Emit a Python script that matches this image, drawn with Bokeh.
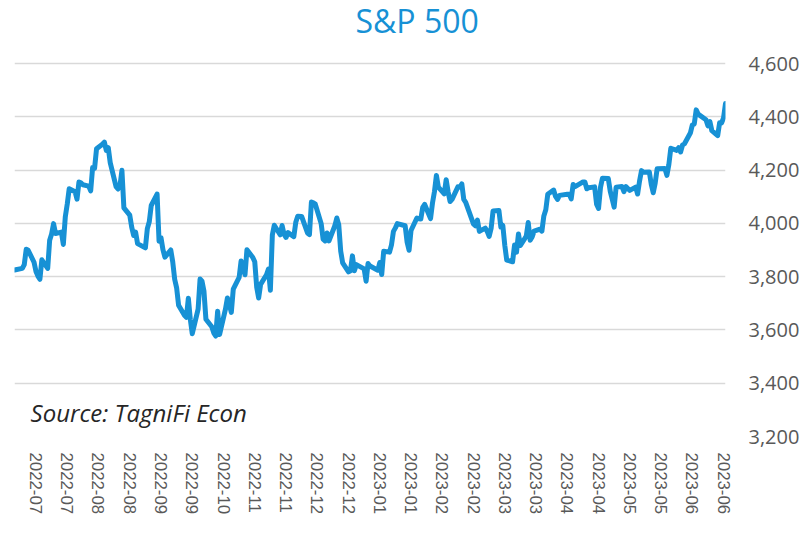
import pandas as pd
from bokeh.plotting import figure
from bokeh.models import (ColumnDataSource, Range1d, FixedTicker, NumeralTickFormatter,
                          DatetimeTickFormatter, Label)
from bokeh.embed import file_html
from bokeh.resources import INLINE

# ---------------- data ----------------
title_text = "S&P 500"
source_text = "Source: TagniFi Econ"
start_date = "2022-07-01"
end_date = "2023-06-30"
market_holidays = ["2022-07-04", "2022-09-05", "2022-11-24", "2022-12-26", "2023-01-02",
                   "2023-01-16", "2023-02-20", "2023-04-07", "2023-05-29", "2023-06-19"]

close_2022_07 = [3825, 3831, 3845, 3903, 3899, 3854, 3819, 3802, 3790, 3863,
                 3831, 3937, 3960, 3999, 3962, 3967, 3921, 4024, 4072, 4130]
close_2022_08 = [4119, 4091, 4155, 4152, 4145, 4140, 4122, 4210, 4207, 4280,
                 4297, 4305, 4274, 4284, 4228, 4138, 4129, 4141, 4199, 4058,
                 4031, 3986, 3955]
close_2022_09 = [3967, 3924, 3908, 3980, 4006, 4067, 4110, 3933, 3946, 3901,
                 3873, 3900, 3856, 3790, 3758, 3693, 3655, 3647, 3719, 3640, 3586]
close_2022_10 = [3678, 3791, 3783, 3745, 3640, 3612, 3589, 3577, 3670, 3583,
                 3678, 3720, 3695, 3666, 3753, 3797, 3859, 3831, 3807, 3901, 3872]
close_2022_11 = [3856, 3760, 3720, 3771, 3807, 3828, 3749, 3956, 3993, 3957,
                 3992, 3959, 3947, 3965, 3950, 4004, 4027, 4026, 3964, 3958, 4080]
close_2022_12 = [4077, 4072, 3999, 3941, 3934, 3964, 3934, 3991, 4020, 3995,
                 3896, 3852, 3818, 3822, 3878, 3822, 3845, 3829, 3783, 3849, 3840]
close_2023_01 = [3824, 3853, 3808, 3895, 3892, 3919, 3970, 3983, 3999, 3991,
                 3929, 3899, 3973, 4020, 4017, 4016, 4060, 4071, 4018, 4077]
close_2023_02 = [4119, 4180, 4136, 4111, 4164, 4118, 4082, 4090, 4137, 4136,
                 4148, 4090, 4079, 3997, 3991, 4012, 3970, 3982, 3970]
close_2023_03 = [3951, 3981, 4046, 4048, 3986, 3992, 3918, 3862, 3856, 3919,
                 3892, 3960, 3917, 3952, 4003, 3937, 3949, 3971, 3978, 3971,
                 4028, 4051, 4109]
close_2023_04 = [4125, 4101, 4090, 4105, 4109, 4109, 4092, 4146, 4138, 4151,
                 4155, 4155, 4130, 4134, 4137, 4072, 4056, 4135, 4169]
close_2023_05 = [4168, 4120, 4091, 4061, 4136, 4138, 4119, 4138, 4131, 4124,
                 4136, 4110, 4159, 4198, 4192, 4193, 4146, 4115, 4151, 4205,
                 4206, 4180]
close_2023_06 = [4221, 4282, 4274, 4284, 4268, 4294, 4299, 4339, 4369, 4373,
                 4426, 4410, 4389, 4366, 4382, 4348, 4329, 4378, 4377, 4396, 4450]

tick_dates = ["2022-07-12", "2022-07-28", "2022-08-13", "2022-08-29", "2022-09-14",
              "2022-09-30", "2022-10-16", "2022-11-01", "2022-11-17", "2022-12-03",
              "2022-12-19", "2023-01-04", "2023-01-20", "2023-02-05", "2023-02-21",
              "2023-03-09", "2023-03-25", "2023-04-10", "2023-04-26", "2023-05-12",
              "2023-05-28", "2023-06-13", "2023-06-29"]
y_ticks = [3200, 3400, 3600, 3800, 4000, 4200, 4400, 4600]

closes = (close_2022_07 + close_2022_08 + close_2022_09 + close_2022_10 + close_2022_11 +
          close_2022_12 + close_2023_01 + close_2023_02 + close_2023_03 + close_2023_04 +
          close_2023_05 + close_2023_06)
dates = pd.bdate_range(start_date, end_date, freq="C", holidays=market_holidays)
assert len(dates) == len(closes)

src = ColumnDataSource(data=dict(date=dates, close=closes))

def ms(d):
    return pd.Timestamp(d).value / 1e6

# ---------------- layout / styling ----------------
BLUE = "#1791D5"
GREY = "#595959"
HEADROOM = 236.5   # value-space room above the top gridline, used for the title

p = figure(width=804, height=535, x_axis_type="datetime", y_axis_location="right",
           output_backend="svg", toolbar_location=None,
           x_range=Range1d(ms(start_date), ms(end_date)),
           y_range=Range1d(y_ticks[0], y_ticks[-1] + HEADROOM),
           min_border_left=14, min_border_right=79, min_border_top=0, min_border_bottom=99)

p.outline_line_color = None
p.background_fill_color = "white"
p.border_fill_color = "white"

p.line("date", "close", source=src, line_width=5, color=BLUE,
       line_join="round", line_cap="round")

# x axis
xa = p.xaxis[0]
xa.ticker = FixedTicker(ticks=[ms(d) for d in tick_dates])
xa.formatter = DatetimeTickFormatter(milliseconds="%Y-%m", seconds="%Y-%m", minsec="%Y-%m",
                                     minutes="%Y-%m", hourmin="%Y-%m", hours="%Y-%m",
                                     days="%Y-%m", months="%Y-%m", years="%Y-%m")
xa.major_label_orientation = "vertical"
xa.axis_line_color = None
xa.major_tick_line_color = None
xa.minor_tick_line_color = None
xa.major_tick_out = 0
xa.major_label_standoff = 16
xa.axis_label_standoff = 0
xa.major_label_text_font = "Liberation Sans"
xa.major_label_text_font_size = "16.8px"
xa.major_label_text_color = GREY

# y axis
ya = p.yaxis[0]
ya.ticker = FixedTicker(ticks=y_ticks)
ya.formatter = NumeralTickFormatter(format="0,0")
ya.axis_line_color = None
ya.major_tick_line_color = None
ya.minor_tick_line_color = None
ya.major_tick_out = 0
ya.major_label_standoff = 23
ya.major_label_text_font = "Open Sans"
ya.major_label_text_font_size = "20px"
ya.major_label_text_color = GREY

p.xgrid.grid_line_color = None
p.ygrid.ticker = FixedTicker(ticks=y_ticks)
p.ygrid.grid_line_color = "#D9D9D9"
p.ygrid.grid_line_width = 1.5

# chart title and source note
p.add_layout(Label(x=ms("2022-12-22 14:00"), y=4762, text=title_text,
                   text_font="Open Sans", text_font_size="32px",
                   text_color=BLUE, text_baseline="alphabetic"))
p.add_layout(Label(x=ms("2022-07-09 05:00"), y=3290, text=source_text,
                   text_font="Open Sans", text_font_style="italic", text_font_size="24px",
                   text_color="#262626", text_baseline="alphabetic"))

open("out.html", "w").write(file_html(p, INLINE))
